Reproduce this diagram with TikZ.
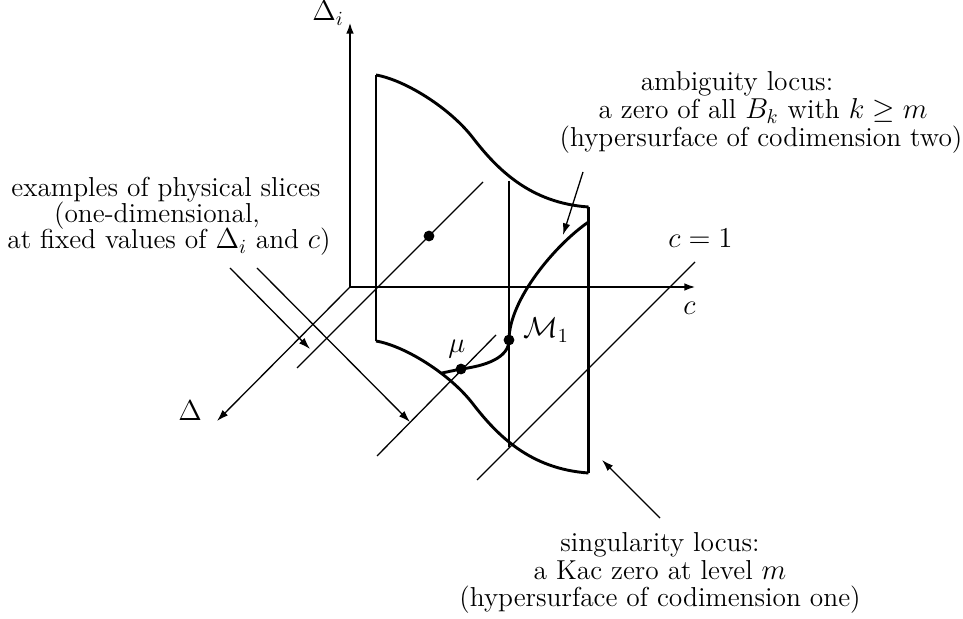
\documentclass[tikz,border=0pt]{standalone}
\usetikzlibrary{arrows.meta}
\begin{document}
\begin{tikzpicture}[x=0.5pt,y=-0.5pt,
  thickline/.style={line width=1.45pt},
  thinline/.style={line width=0.65pt},
  tip/.style={-{Latex[length=5.8pt,width=3.8pt]}},
  dotnode/.style={circle,fill=black,inner sep=0pt,minimum size=5.4pt},
  lbl/.style={inner sep=0pt},
  txt/.style={inner sep=0pt,anchor=base},
  every node/.append style={font=\fontsize{13.7}{14}\selectfont}]
\useasboundingbox (0,0) rectangle (963,619);

% axes
\coordinate (O) at (350,287);
\coordinate (yTop) at (350,22);
\coordinate (cTip) at (696,287);
\coordinate (dTip) at (217,421);
\draw[thickline,tip] (O) -- (yTop);
\draw[thickline,tip] (O) -- (cTip);
\draw[thinline,tip] (O) -- (dTip);
\node[lbl,anchor=base west] (lDi) at (312,21) {$\Delta_i$};
\node[lbl,anchor=base west] (lD) at (178,421) {$\Delta$};
\node[lbl,anchor=base west] (lc) at (683,315) {$c$};
\node[lbl,anchor=base west] (lc1) at (668,248) {$c=1$};

% surface
\coordinate (TL) at (376,75);
\coordinate (BL) at (376,341);
\coordinate (TR) at (588.5,207);
\coordinate (BR) at (588.5,473);
\coordinate (TM) at (509,181);
\coordinate (BM) at (509,447);
\draw[thickline] (TL) -- (BL);
\draw[thickline] (TR) -- (BR);
\draw[thickline] (TM) -- (BM);
\draw[thickline] (TL) .. controls (405,80) and (450,108) .. (473,138)
   .. controls (497,169) and (530,203) .. (TR);
\draw[thickline] (BL) .. controls (405,346) and (450,374) .. (473,404)
   .. controls (497,435) and (530,469) .. (BR);

% slices
\coordinate (s1a) at (483,182); \coordinate (s1b) at (297,368);
\coordinate (s2a) at (496,335); \coordinate (s2b) at (377,456);
\coordinate (s3a) at (695,262); \coordinate (s3b) at (477,480);
\draw[thinline] (s1a) -- (s1b);
\draw[thinline] (s2a) -- (s2b);
\draw[thinline] (s3a) -- (s3b);
\node[dotnode] (pdot) at (429,236) {};

% ambiguity curve
\node[dotnode] (m1) at (509,340) {};
\node[dotnode] (mu) at (461,369) {};
\coordinate (ambStart) at (588.5,222);
\coordinate (ambEnd) at (442,373);
\draw[thickline] (ambStart) .. controls (555,245) and (509,300) .. (m1.center)
   .. controls (509,358) and (485,366) .. (mu.center) -- (ambEnd);
\node[lbl,anchor=base west] (m1lab) at (523,338) {$\mathcal{M}_1$};
\node[lbl,anchor=base west] (mulab) at (448,353) {$\mu$};

% pointer arrows
\coordinate (pa0) at (230,268); \coordinate (pa1) at (310,349);
\coordinate (pb0) at (257,268); \coordinate (pb1) at (410,422);
\coordinate (aa0) at (583,172); \coordinate (aa1) at (563,235);
\coordinate (sa0) at (660,518); \coordinate (sa1) at (602,460);
\draw[thinline,tip] (pa0) -- (pa1);
\draw[thinline,tip] (pb0) -- (pb1);
\draw[thinline,tip] (aa0) -- (aa1);
\draw[thinline,tip] (sa0) -- (sa1);

% texts
\node[txt] (ex1) at (166,197) {examples of physical slices};
\node[txt] (ex2) at (157,223) {(one-dimensional,};
\node[txt] (ex3) at (169,249) {at fixed values of $\Delta_i$ and $c$)};

\node[txt] (am1) at (737,91) {ambiguity locus:};
\node[txt] (am2) at (763,119) {a zero of all $B_k$ with $k\geq m$};
\node[txt] (am3) at (761,147) {(hypersurface of codimension two)};

\node[txt] (sg1) at (660,552) {singularity locus:};
\node[txt] (sg2) at (660,579) {a Kac zero at level $m$};
\node[txt] (sg3) at (660,606) {(hypersurface of codimension one)};
\end{tikzpicture}
\end{document}
